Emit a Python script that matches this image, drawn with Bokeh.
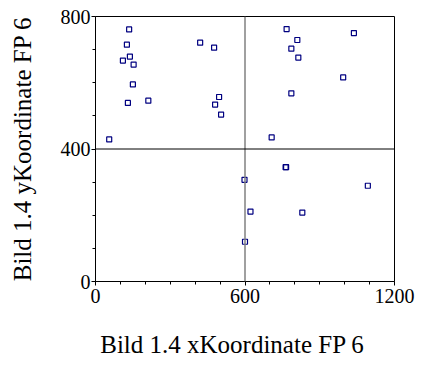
from bokeh.plotting import figure
from bokeh.models import Range1d, FixedTicker, Span, ColumnDataSource
from bokeh.embed import file_html
from bokeh.resources import INLINE

x_vals = [135, 126, 138, 110, 153, 150, 130, 212, 55, 420, 476, 496, 480, 504,
          767, 1037, 810, 786, 814, 994, 786, 707,
          598, 622, 600, 763, 765, 1093, 830]
y_vals = [761, 715, 679, 667, 655, 595, 539, 546, 429, 721, 706, 557, 534, 504,
          762, 750, 729, 703, 676, 616, 568, 435,
          307, 211, 120, 345, 345, 289, 208]

x_ticks = [0, 600, 1200]
y_ticks = [0, 400, 800]
x_minor = [100, 200, 300, 400, 500, 700, 800, 900, 1000, 1100]
y_minor = [100, 200, 300, 500, 600, 700]
x_title = "Bild 1.4 xKoordinate FP 6"
y_title = "Bild 1.4 yKoordinate FP 6"
ref_x = 600
ref_y = 400

FONT = "Liberation Serif"
NBSP = "\u00a0"

p = figure(width=421, height=369, output_backend="svg", toolbar_location=None,
           x_range=Range1d(0, 1200), y_range=Range1d(0, 800),
           min_border_left=95, min_border_right=27, min_border_top=16,
           min_border_bottom=88)
p.background_fill_color = "white"
p.border_fill_color = "white"
p.outline_line_color = "black"
p.outline_line_width = 1
p.xgrid.visible = False
p.ygrid.visible = False

for ax, ticks, minor in ((p.xaxis[0], x_ticks, x_minor), (p.yaxis[0], y_ticks, y_minor)):
    ax.ticker = FixedTicker(ticks=ticks, minor_ticks=minor)
    ax.major_label_text_font = FONT
    ax.major_label_text_font_size = "20px"
    ax.major_label_text_color = "black"
    ax.axis_line_color = "black"
    ax.major_tick_line_color = "black"
    ax.minor_tick_line_color = "black"
    ax.major_tick_out = 4
    ax.major_tick_in = 0
    ax.minor_tick_out = 3
    ax.minor_tick_in = 0
    ax.major_label_standoff = 1
    ax.axis_label_text_font = FONT
    ax.axis_label_text_font_size = "25px"
    ax.axis_label_text_font_style = "normal"
    ax.axis_label_text_color = "black"

p.xaxis[0].major_label_standoff = 3
p.xaxis[0].axis_label = x_title + NBSP * 4
p.xaxis[0].axis_label_standoff = 25

p.yaxis[0].axis_label = y_title
p.yaxis[0].axis_label_standoff = 22

p.add_layout(Span(location=ref_x, dimension="height", line_color="#808080", line_width=1.5))
p.add_layout(Span(location=ref_y, dimension="width", line_color="black", line_width=1))

src = ColumnDataSource(dict(x=x_vals, y=y_vals))
p.scatter("x", "y", source=src, marker="square", size=5, line_color="#000080",
          line_width=1.2, fill_color=None)

open("out.html", "w").write(file_html(p, INLINE))
